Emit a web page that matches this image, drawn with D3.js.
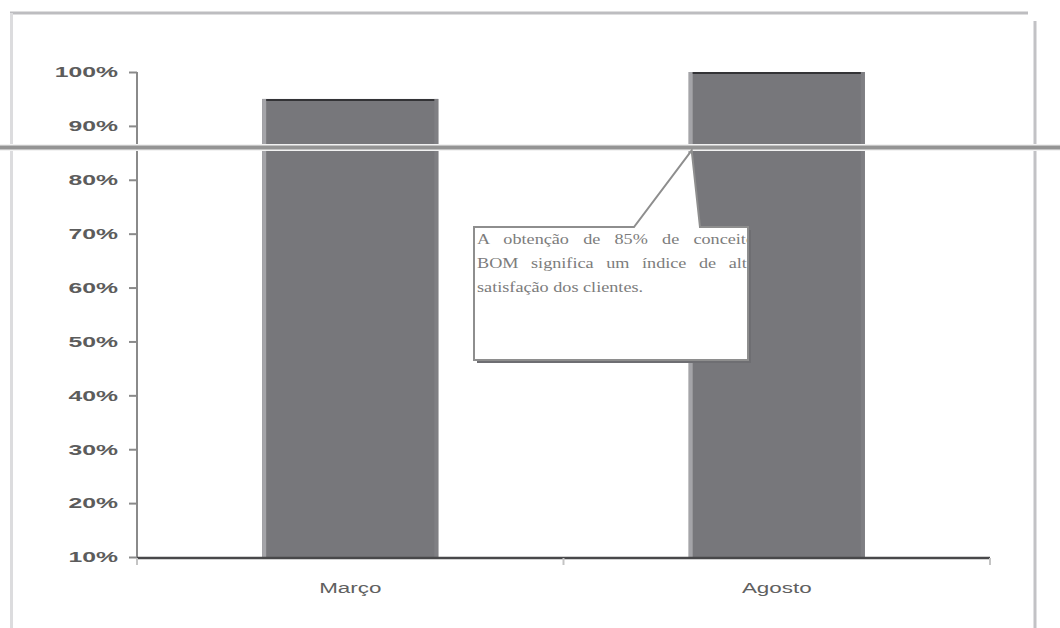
<!DOCTYPE html>
<html lang="pt">
<head>
<meta charset="utf-8">
<title>Satisfação dos clientes</title>
<script src="https://cdnjs.cloudflare.com/ajax/libs/d3/7.8.5/d3.min.js"></script>
<style>
  body { margin: 0; background: #fff; }
  svg { display: block; }
  .ylab { font-family: "Liberation Sans", Arial, sans-serif; font-size: 15px; font-weight: bold; fill: #5c5c5c; }
  .xlab { font-family: "Liberation Sans", Arial, sans-serif; font-size: 14px; fill: #606060; }
  .note { font-family: "Liberation Serif", "Times New Roman", serif; font-size: 14px; fill: #7c7c7c; }
</style>
</head>
<body>
<div id="plot"></div>
<script>
// data
var categories = ["Março", "Agosto"];
var values = [95, 100];
var yTicks = [10, 20, 30, 40, 50, 60, 70, 80, 90, 100];
var targetLevel = 86;
var noteLines = ["A obtenção de 85% de conceito", "BOM significa um índice de alta", "satisfação dos clientes."];

var width = 1060, height = 628;
var margin = {top: 72, right: 70, bottom: 71, left: 137};
var stretch = 1.65;   // the scan is wide: text is stretched sideways

var svg = d3.select("#plot").append("svg")
    .attr("width", width)
    .attr("height", height);

// outer frame of the scanned chart
svg.append("line").attr("x1", 10).attr("y1", 13).attr("x2", 1028).attr("y2", 13)
    .attr("stroke", "#bdbdc0").attr("stroke-width", 3);
svg.append("line").attr("x1", 11.5).attr("y1", 13).attr("x2", 11.5).attr("y2", height)
    .attr("stroke", "#dcdcde").attr("stroke-width", 3);
svg.append("line").attr("x1", 1035).attr("y1", 21).attr("x2", 1035).attr("y2", height)
    .attr("stroke", "#c2c2c5").attr("stroke-width", 3);

var x = d3.scaleBand()
    .domain(categories)
    .range([margin.left, width - margin.right])
    .paddingInner(0.587)
    .paddingOuter(0.2935);

var y = d3.scaleLinear()
    .domain([10, 100])
    .range([height - margin.bottom, margin.top]);

// bars
var bars = svg.selectAll("g.bar")
    .data(values)
    .enter().append("g").attr("class", "bar");

bars.append("rect")
    .attr("x", function(d, i) { return x(categories[i]); })
    .attr("y", function(d) { return y(d); })
    .attr("width", x.bandwidth())
    .attr("height", function(d) { return y(10) - y(d); })
    .attr("fill", "#77777b");
// light left edge
bars.append("rect")
    .attr("x", function(d, i) { return x(categories[i]); })
    .attr("y", function(d) { return y(d); })
    .attr("width", 4)
    .attr("height", function(d) { return y(10) - y(d); })
    .attr("fill", "#a4a4a8");
// slightly lighter right edge
bars.append("rect")
    .attr("x", function(d, i) { return x(categories[i]) + x.bandwidth() - 4; })
    .attr("y", function(d) { return y(d); })
    .attr("width", 4)
    .attr("height", function(d) { return y(10) - y(d); })
    .attr("fill", "#7f7f83");
// dark top edge
bars.append("line")
    .attr("x1", function(d, i) { return x(categories[i]) + 4; })
    .attr("x2", function(d, i) { return x(categories[i]) + x.bandwidth() - 4; })
    .attr("y1", function(d) { return y(d) + 1; })
    .attr("y2", function(d) { return y(d) + 1; })
    .attr("stroke", "#333336").attr("stroke-width", 2);

// y axis
var yAxis = svg.append("g")
    .attr("transform", "translate(" + margin.left + ",0)")
    .call(d3.axisLeft(y).tickValues(yTicks).tickSize(8).tickPadding(11)
        .tickFormat(function(d) { return d + "%"; }));
yAxis.select(".domain").remove();
yAxis.selectAll(".tick line").attr("stroke", "#8a8a8a").attr("stroke-width", 2);
yAxis.selectAll(".tick text")
    .attr("class", "ylab").attr("fill", null).attr("font-size", null).attr("font-family", null)
    .attr("x", -19 / stretch)
    .attr("transform", "scale(" + stretch + ",1)");
yAxis.append("line")
    .attr("x1", 0).attr("x2", 0)
    .attr("y1", y(100)).attr("y2", y(10) + 8)
    .attr("stroke", "#8a8a8a").attr("stroke-width", 2);

// x axis
var xAxis = svg.append("g")
    .attr("transform", "translate(0," + (y(10) + 1) + ")")
    .call(d3.axisBottom(x).tickSize(0).tickPadding(25));
xAxis.select(".domain").remove();
xAxis.selectAll(".tick text")
    .attr("class", "xlab").attr("fill", null).attr("font-size", null).attr("font-family", null)
    .attr("transform", "scale(" + (stretch - 0.05) + ",1)");
xAxis.append("line")
    .attr("x1", margin.left).attr("x2", width - margin.right)
    .attr("stroke", "#48484a").attr("stroke-width", 2.5);
// tick marks between categories
var sep = [x.range()[0], (x(categories[0]) + x.bandwidth() + x(categories[1])) / 2, x.range()[1]];
xAxis.selectAll("line.sep").data(sep).enter().append("line")
    .attr("class", "sep")
    .attr("x1", function(d) { return d; }).attr("x2", function(d) { return d; })
    .attr("y1", 0).attr("y2", 7)
    .attr("stroke", "#c4c4c4").attr("stroke-width", 2);

// target line across the whole page
svg.append("line")
    .attr("x1", 0).attr("x2", width)
    .attr("y1", y(targetLevel)).attr("y2", y(targetLevel))
    .attr("stroke", "#f2f2f2").attr("stroke-width", 7);
svg.append("line")
    .attr("x1", 0).attr("x2", width)
    .attr("y1", y(targetLevel)).attr("y2", y(targetLevel))
    .attr("stroke", "#949494").attr("stroke-width", 4);

// callout
var box = {x: 474, y: 227, w: 274, h: 133};
var tipX = x(categories[1]) + 3, tipY = y(targetLevel) + 3;
var callout = svg.append("g");
callout.append("rect")
    .attr("x", box.x + 3).attr("y", box.y + 3)
    .attr("width", box.w).attr("height", box.h)
    .attr("fill", "#6e6e72");
callout.append("path")
    .attr("d", "M" + box.x + "," + box.y +
        "L634," + box.y + "L" + tipX + "," + tipY + "L700," + box.y +
        "L" + (box.x + box.w) + "," + box.y +
        "L" + (box.x + box.w) + "," + (box.y + box.h) +
        "L" + box.x + "," + (box.y + box.h) + "Z")
    .attr("fill", "#fff")
    .attr("stroke", "#8e8e8e").attr("stroke-width", 2);

svg.append("clipPath").attr("id", "noteClip")
    .append("rect").attr("x", box.x + 2).attr("y", box.y + 2).attr("width", box.w - 3).attr("height", box.h - 4);

var noteStretch = 1.3;
var noteG = callout.append("g").attr("clip-path", "url(#noteClip)")
    .append("g")
    .attr("transform", "translate(" + (box.x + 3) + ",0) scale(" + noteStretch + ",1)");
noteG.selectAll("text").data(noteLines).enter().append("text")
    .attr("class", "note")
    .attr("x", 0)
    .attr("y", function(d, i) { return box.y + 17 + i * 24; })
    .text(function(d) { return d; })
    .each(function(d, i) {
        // justify the first two lines by widening word gaps
        if (i > 1) return;
        var target = 278 / noteStretch;
        var gaps = d.split(" ").length - 1;
        var extra = (target - this.getComputedTextLength()) / gaps;
        if (extra > 0) d3.select(this).attr("word-spacing", extra);
    });
</script>
</body>
</html>
